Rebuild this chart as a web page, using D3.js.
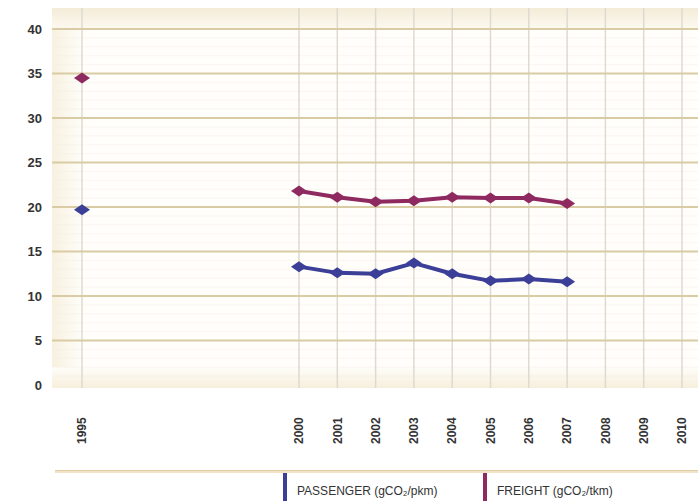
<!DOCTYPE html>
<html><head><meta charset="utf-8">
<script src="https://cdn.jsdelivr.net/npm/d3@7"></script>
<style>body{margin:0;background:#fff}svg{display:block}</style>
</head><body>
<svg id="c" width="698" height="501"></svg>
<script>
const years = [1995, 2000, 2001, 2002, 2003, 2004, 2005, 2006, 2007, 2008, 2009, 2010];
const dataYears = [2000, 2001, 2002, 2003, 2004, 2005, 2006, 2007];
const passenger1995 = 19.7;
const freight1995 = 34.5;
const passenger = [13.3, 12.6, 12.5, 13.7, 12.5, 11.7, 11.9, 11.6];
const freight = [21.8, 21.1, 20.6, 20.7, 21.1, 21.0, 21.0, 20.4];
const yTicks = [0, 5, 10, 15, 20, 25, 30, 35, 40];
const seriesNames = ["PASSENGER (gCO\u2082/pkm)", "FREIGHT (gCO\u2082/tkm)"];
const colors = ["#3b3f98", "#8e2a60"];

const svg = d3.select("#c");
const L = 52, R = 698, T = 8, B = 388;
const x = d3.scaleLinear().domain([1995, 2000, 2010]).range([82, 299, 682]);
const y = d3.scaleLinear().domain([0, 40]).range([385, 29]);

const defs = svg.append("defs");
const gTop = defs.append("linearGradient").attr("id","gt").attr("x1",0).attr("y1",0).attr("x2",0).attr("y2",1);
gTop.append("stop").attr("offset",0).attr("stop-color","#f4ecd8");
gTop.append("stop").attr("offset",1).attr("stop-color","#fcf9f0");
const gLeft = defs.append("linearGradient").attr("id","gl").attr("x1",0).attr("y1",0).attr("x2",1).attr("y2",0);
gLeft.append("stop").attr("offset",0).attr("stop-color","#f8f1e0");
gLeft.append("stop").attr("offset",1).attr("stop-color","#fefdf9");
const gBot = defs.append("linearGradient").attr("id","gb").attr("x1",0).attr("y1",0).attr("x2",0).attr("y2",1);
gBot.append("stop").attr("offset",0).attr("stop-color","#fefdf9");
gBot.append("stop").attr("offset",1).attr("stop-color","#f7efdc");

// plot background
svg.append("rect").attr("x",L).attr("y",T).attr("width",R-L).attr("height",B-T).attr("fill","#fffefb");
svg.append("rect").attr("x",L).attr("y",T).attr("width",R-L).attr("height",y(40)-T).attr("fill","url(#gt)");
svg.append("rect").attr("x",L).attr("y",y(40)).attr("width",30).attr("height",B-y(40)).attr("fill","url(#gl)");
svg.append("rect").attr("x",L).attr("y",y(0)-18).attr("width",R-L).attr("height",B-y(0)+18).attr("fill","url(#gb)");

// minor faint lines
const minor = d3.range(0, 40, 1).filter(v => v % 5 !== 0);
svg.append("g").selectAll("line").data(minor).join("line")
  .attr("x1",L).attr("x2",R).attr("y1",d=>y(d)).attr("y2",d=>y(d))
  .attr("stroke","#f5f0e4").attr("stroke-width",1).attr("opacity",0.5);

// vertical gridlines
svg.append("g").selectAll("line").data(years).join("line")
  .attr("x1",d=>x(d)).attr("x2",d=>x(d)).attr("y1",T).attr("y2",B)
  .attr("stroke","#dedad0").attr("stroke-width",1.5);

// horizontal gridlines
svg.append("g").selectAll("line").data(yTicks.filter(v=>v>0)).join("line")
  .attr("x1",L).attr("x2",R).attr("y1",d=>y(d)).attr("y2",d=>y(d))
  .attr("stroke","#d9cba3").attr("stroke-width",2);

// y labels
svg.append("g").selectAll("text").data(yTicks).join("text")
  .attr("x",42).attr("y",d=>y(d)).attr("dy","0.35em").attr("text-anchor","end")
  .attr("font-family","Liberation Sans, Arial, sans-serif").attr("font-weight","bold")
  .attr("font-size",13).attr("fill","#333").text(d=>d);

// x labels
svg.append("g").selectAll("text").data(years).join("text")
  .attr("transform",d=>`translate(${x(d)},444) rotate(-90)`)
  .attr("dy","0.35em").attr("text-anchor","start")
  .attr("font-family","Liberation Sans, Arial, sans-serif").attr("font-weight","bold")
  .attr("font-size",12).attr("fill","#333").text(d=>d);

// bottom separator line
svg.append("rect").attr("x",55).attr("y",470).attr("width",R-55).attr("height",3).attr("fill","#f0e3c8");
svg.append("line").attr("x1",55).attr("x2",R).attr("y1",470.5).attr("y2",470.5).attr("stroke","#e0cda6").attr("stroke-width",1);

// series
const series = [passenger, freight];
const first = [passenger1995, freight1995];
const line = d3.line().x(d=>x(d[0])).y(d=>y(d[1]));
const diamond = (cx, cy) => `M${cx-8},${cy}L${cx},${cy-5.5}L${cx+8},${cy}L${cx},${cy+5.5}Z`;
series.forEach((s, i) => {
  const pts = dataYears.map((yr, j) => [yr, s[j]]);
  const g = svg.append("g");
  g.append("path").attr("d", line(pts)).attr("fill","none").attr("stroke",colors[i]).attr("stroke-width",4).attr("stroke-linejoin","round");
  g.selectAll("path.m").data(pts.concat([[1995, first[i]]])).join("path").attr("class","m")
    .attr("d", d=>diamond(x(d[0]), y(d[1]))).attr("fill",colors[i]);
});

// legend
const lx = [283, 483];
seriesNames.forEach((n, i) => {
  svg.append("rect").attr("x",lx[i]).attr("y",473).attr("width",4).attr("height",28).attr("fill",colors[i]);
  svg.append("text").attr("x",lx[i]+14).attr("y",495)
    .attr("font-family","Liberation Sans, Arial, sans-serif").attr("font-size",12)
    .attr("fill","#333").text(n);
});
</script>
</body></html>
